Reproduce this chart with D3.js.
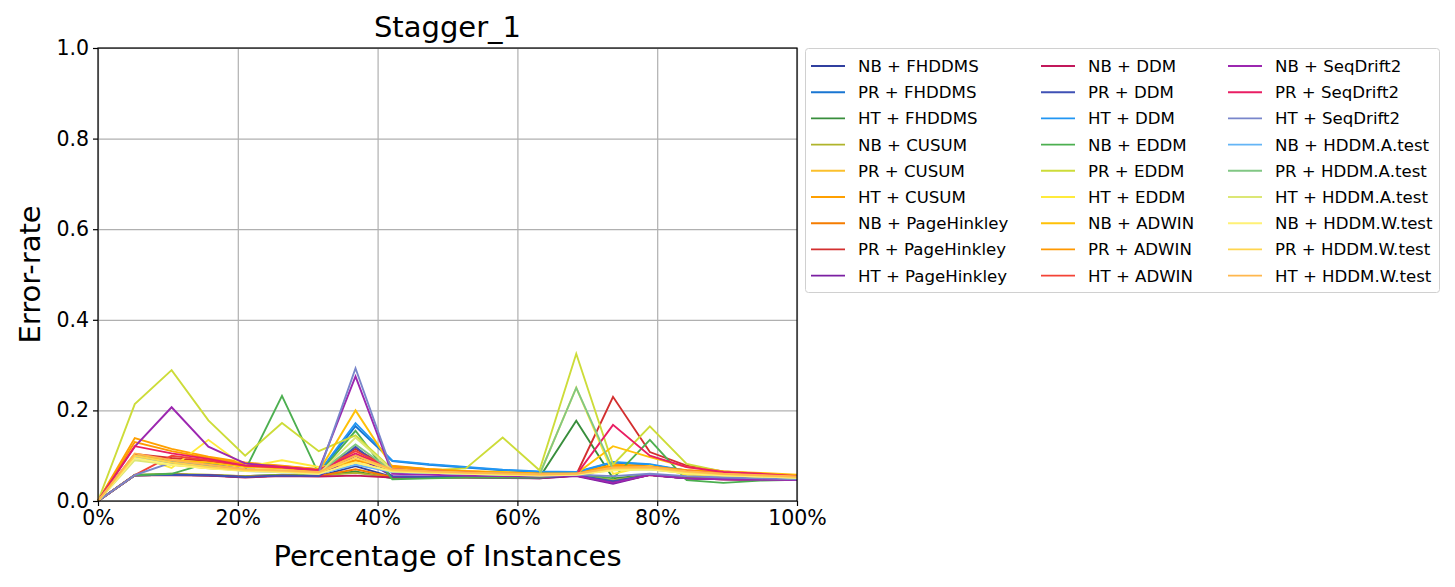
<!DOCTYPE html>
<html lang="en">
<head>
<meta charset="utf-8">
<title>Stagger_1</title>
<script src="https://d3js.org/d3.v7.min.js"></script>
<style>
  body { margin: 0; background: #fff; font-family: "DejaVu Sans", sans-serif; }
  .grid line { stroke: #b0b0b0; stroke-width: 1.2; }
  .grid path { display: none; }
  .axis text { font-size: 20.5px; fill: #000; font-family: "DejaVu Sans", sans-serif; }
  .axis path, .axis line { stroke: #000; stroke-width: 1.2; }
</style>
</head>
<body>
<script>
// x positions: 20 evaluation points, 0..100%
var xPct = [0, 5.26, 10.53, 15.79, 21.05, 26.32, 31.58, 36.84, 42.11, 47.37,
            52.63, 57.89, 63.16, 68.42, 73.68, 78.95, 84.21, 89.47, 94.74, 100];

var seriesNames = [
  "NB + FHDDMS", "PR + FHDDMS", "HT + FHDDMS",
  "NB + CUSUM", "PR + CUSUM", "HT + CUSUM",
  "NB + PageHinkley", "PR + PageHinkley", "HT + PageHinkley",
  "NB + DDM", "PR + DDM", "HT + DDM",
  "NB + EDDM", "PR + EDDM", "HT + EDDM",
  "NB + ADWIN", "PR + ADWIN", "HT + ADWIN",
  "NB + SeqDrift2", "PR + SeqDrift2", "HT + SeqDrift2",
  "NB + HDDM.A.test", "PR + HDDM.A.test", "HT + HDDM.A.test",
  "NB + HDDM.W.test", "PR + HDDM.W.test", "HT + HDDM.W.test"
];

var seriesColors = [
  "#303f9f", "#1976d2", "#388e3c",
  "#afb42b", "#fbc02d", "#ffa000",
  "#f57c00", "#d32f2f", "#7b1fa2",
  "#c2185b", "#3f51b5", "#2196f3",
  "#4caf50", "#cddc39", "#ffeb3b",
  "#ffc107", "#ff9800", "#f44336",
  "#9c27b0", "#e91e63", "#7986cb",
  "#64b5f6", "#81c784", "#dce775",
  "#fff176", "#ffd54f", "#ffb74d"
];

var nbFhddms   = [0,0.057,0.058,0.057,0.053,0.056,0.055,0.077,0.053,0.052,0.053,0.052,0.051,0.057,0.045,0.058,0.050,0.049,0.048,0.047];
var prFhddms   = [0,0.098,0.086,0.079,0.066,0.066,0.062,0.165,0.088,0.080,0.074,0.068,0.064,0.063,0.085,0.080,0.066,0.058,0.055,0.052];
var htFhddms   = [0,0.057,0.058,0.057,0.055,0.058,0.056,0.065,0.050,0.053,0.054,0.053,0.052,0.177,0.050,0.058,0.052,0.050,0.049,0.048];
var nbCusum    = [0,0.058,0.060,0.058,0.055,0.057,0.056,0.062,0.052,0.053,0.053,0.052,0.051,0.058,0.046,0.058,0.051,0.049,0.048,0.047];
var prCusum    = [0,0.100,0.080,0.072,0.068,0.066,0.062,0.090,0.070,0.066,0.062,0.060,0.058,0.058,0.075,0.075,0.065,0.060,0.057,0.054];
var htCusum    = [0,0.139,0.115,0.098,0.085,0.078,0.070,0.100,0.078,0.070,0.066,0.063,0.060,0.062,0.080,0.078,0.068,0.063,0.060,0.056];
var nbPh       = [0,0.057,0.058,0.057,0.053,0.056,0.055,0.070,0.053,0.052,0.053,0.052,0.051,0.056,0.040,0.058,0.050,0.048,0.047,0.046];
var prPh       = [0,0.104,0.095,0.088,0.078,0.075,0.068,0.115,0.070,0.068,0.064,0.062,0.058,0.058,0.230,0.108,0.078,0.065,0.060,0.055];
var htPh       = [0,0.057,0.058,0.057,0.053,0.056,0.055,0.100,0.055,0.053,0.053,0.052,0.050,0.055,0.038,0.058,0.050,0.048,0.047,0.046];
var nbDdm      = [0,0.057,0.057,0.056,0.052,0.055,0.054,0.056,0.052,0.052,0.052,0.051,0.050,0.056,0.042,0.057,0.050,0.048,0.047,0.046];
var prDdm      = [0,0.057,0.058,0.057,0.053,0.056,0.055,0.120,0.054,0.053,0.053,0.052,0.051,0.057,0.044,0.058,0.050,0.049,0.048,0.047];
var htDdm      = [0,0.098,0.087,0.080,0.067,0.066,0.063,0.172,0.089,0.081,0.075,0.069,0.065,0.064,0.086,0.081,0.067,0.059,0.056,0.053];
var nbEddm     = [0,0.057,0.060,0.084,0.068,0.232,0.060,0.155,0.048,0.050,0.052,0.052,0.052,0.060,0.050,0.135,0.046,0.040,0.045,0.047];
var prEddm     = [0,0.214,0.289,0.178,0.100,0.172,0.110,0.145,0.070,0.068,0.072,0.140,0.068,0.325,0.080,0.165,0.082,0.065,0.060,0.055];
var htEddm     = [0,0.100,0.073,0.135,0.075,0.090,0.075,0.085,0.065,0.062,0.060,0.058,0.058,0.250,0.060,0.078,0.058,0.055,0.052,0.050];
var nbAdwin    = [0,0.100,0.090,0.085,0.075,0.072,0.065,0.200,0.075,0.070,0.066,0.064,0.060,0.060,0.121,0.097,0.075,0.065,0.062,0.058];
var prAdwin    = [0,0.130,0.110,0.095,0.082,0.077,0.070,0.090,0.076,0.070,0.066,0.062,0.060,0.060,0.077,0.076,0.068,0.063,0.060,0.056];
var htAdwin    = [0,0.057,0.100,0.090,0.078,0.074,0.068,0.110,0.070,0.066,0.062,0.060,0.058,0.058,0.070,0.072,0.066,0.060,0.057,0.054];
var nbSeq      = [0,0.120,0.207,0.120,0.083,0.075,0.068,0.275,0.060,0.058,0.056,0.055,0.054,0.056,0.040,0.058,0.050,0.048,0.047,0.046];
var prSeq      = [0,0.121,0.105,0.093,0.078,0.075,0.068,0.105,0.070,0.066,0.063,0.060,0.058,0.058,0.168,0.100,0.075,0.064,0.060,0.055];
var htSeq      = [0,0.057,0.085,0.080,0.070,0.066,0.062,0.293,0.065,0.062,0.060,0.058,0.056,0.058,0.055,0.060,0.055,0.052,0.050,0.048];
var nbHddmA    = [0,0.095,0.082,0.075,0.066,0.064,0.060,0.080,0.064,0.062,0.060,0.058,0.056,0.058,0.070,0.070,0.062,0.057,0.054,0.051];
var prHddmA    = [0,0.100,0.085,0.075,0.068,0.066,0.062,0.125,0.066,0.064,0.062,0.060,0.058,0.250,0.070,0.072,0.062,0.058,0.055,0.052];
var htHddmA    = [0,0.090,0.080,0.073,0.068,0.065,0.060,0.140,0.068,0.064,0.061,0.059,0.057,0.060,0.068,0.070,0.061,0.057,0.054,0.051];
var nbHddmW    = [0,0.095,0.080,0.072,0.066,0.064,0.060,0.085,0.065,0.062,0.060,0.058,0.056,0.058,0.068,0.070,0.061,0.057,0.054,0.051];
var prHddmW    = [0,0.100,0.085,0.075,0.068,0.066,0.062,0.095,0.068,0.064,0.062,0.060,0.058,0.060,0.072,0.073,0.064,0.059,0.056,0.053];
var htHddmW    = [0,0.105,0.090,0.080,0.070,0.068,0.064,0.100,0.070,0.066,0.063,0.061,0.059,0.060,0.074,0.075,0.066,0.060,0.057,0.054];

var seriesValues = [
  nbFhddms, prFhddms, htFhddms, nbCusum, prCusum, htCusum,
  nbPh, prPh, htPh, nbDdm, prDdm, htDdm,
  nbEddm, prEddm, htEddm, nbAdwin, prAdwin, htAdwin,
  nbSeq, prSeq, htSeq, nbHddmA, prHddmA, htHddmA,
  nbHddmW, prHddmW, htHddmW
];

var yTicks = [0, 0.2, 0.4, 0.6, 0.8, 1.0];
var xTicks = [0, 20, 40, 60, 80, 100];

var width = 1455, height = 587;
var plotLeft = 98, plotRight = 797, plotTop = 48, plotBottom = 501;

var svg = d3.select("body").append("svg")
  .attr("width", width)
  .attr("height", height);

var x = d3.scaleLinear().domain([0, 100]).range([plotLeft, plotRight]);
var y = d3.scaleLinear().domain([0, 1]).range([plotBottom, plotTop]);

// grid
svg.append("g").attr("class", "grid")
  .attr("transform", "translate(0," + plotBottom + ")")
  .call(d3.axisBottom(x).tickValues(xTicks).tickSize(-(plotBottom - plotTop)).tickFormat(""));
svg.append("g").attr("class", "grid")
  .attr("transform", "translate(" + plotLeft + ",0)")
  .call(d3.axisLeft(y).tickValues(yTicks).tickSize(-(plotRight - plotLeft)).tickFormat(""));

// lines
var line = d3.line()
  .x(function(d, i) { return x(xPct[i]); })
  .y(function(d) { return y(d); });

var plot = svg.append("g");
plot.selectAll("path")
  .data(seriesValues)
  .enter()
  .append("path")
  .attr("fill", "none")
  .attr("stroke", function(d, i) { return seriesColors[i]; })
  .attr("stroke-width", 1.9)
  .attr("d", line);

// frame
svg.append("rect")
  .attr("x", plotLeft).attr("y", plotTop)
  .attr("width", plotRight - plotLeft).attr("height", plotBottom - plotTop)
  .attr("fill", "none").attr("stroke", "#000").attr("stroke-width", 1.2);

// axes
svg.append("g").attr("class", "axis")
  .attr("transform", "translate(0," + plotBottom + ")")
  .call(d3.axisBottom(x).tickValues(xTicks).tickSize(5).tickPadding(4)
    .tickFormat(function(d) { return d + "%"; }))
  .call(function(g) { g.select(".domain").remove(); });
svg.append("g").attr("class", "axis")
  .attr("transform", "translate(" + plotLeft + ",0)")
  .call(d3.axisLeft(y).tickValues(yTicks).tickSize(5).tickPadding(4)
    .tickFormat(d3.format(".1f")))
  .call(function(g) { g.select(".domain").remove(); });

// titles
svg.append("text")
  .attr("x", (plotLeft + plotRight) / 2).attr("y", 37)
  .attr("text-anchor", "middle")
  .style("font-size", "29px")
  .text("Stagger_1");

svg.append("text")
  .attr("x", (plotLeft + plotRight) / 2).attr("y", 566)
  .attr("text-anchor", "middle")
  .style("font-size", "29px")
  .text("Percentage of Instances");

svg.append("text")
  .attr("transform", "translate(40," + ((plotTop + plotBottom) / 2) + ") rotate(-90)")
  .attr("text-anchor", "middle")
  .style("font-size", "29px")
  .text("Error-rate");

// legend
var legend = svg.append("g");
legend.append("rect")
  .attr("x", 805.5).attr("y", 48.5)
  .attr("width", 634).attr("height", 244)
  .attr("rx", 3)
  .attr("fill", "#fff")
  .attr("stroke", "#d0d0d0");

var colX = [811, 1041, 1228];
var items = legend.selectAll("g.item")
  .data(seriesNames)
  .enter()
  .append("g")
  .attr("class", "item")
  .attr("transform", function(d, i) {
    var c = Math.floor(i / 9), r = i % 9;
    return "translate(" + colX[c] + "," + (66 + r * 26.2) + ")";
  });
items.append("line")
  .attr("x1", 0).attr("x2", 34)
  .attr("stroke", function(d, i) { return seriesColors[i]; })
  .attr("stroke-width", 1.9);
items.append("text")
  .attr("x", 47).attr("y", 6)
  .style("font-size", "16.6px")
  .text(function(d) { return d; });
</script>
</body>
</html>
